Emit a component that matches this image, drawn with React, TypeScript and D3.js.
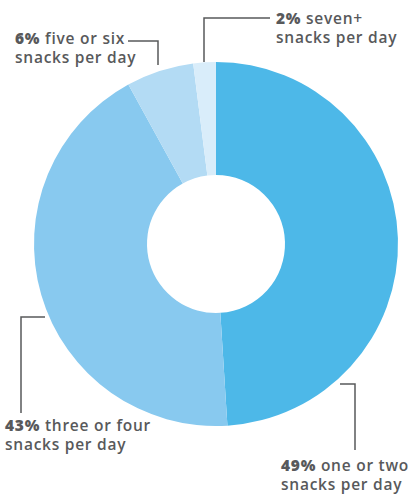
import React from "react";
import * as d3 from "d3";

const categories = ["one or two", "three or four", "five or six", "seven+"];
const values = [49, 43, 6, 2];
const colors = ["#4DB8E8", "#88C9EF", "#B3DBF4", "#D9EDFA"];

const W = 410;
const H = 496;
const cx = 216;
const cy = 244;
const R = 182;
const r0 = 69;

const textColor = "#58595B";
const font = "'Open Sans', 'DejaVu Sans', sans-serif";

export default function App() {
  const pie = d3.pie<number>().sort(null).value((d) => d);
  const arcs = pie(values);
  const arc = d3.arc<d3.PieArcDatum<number>>().innerRadius(r0).outerRadius(R);

  const labels = [
    { i: 0, x: 281, y: 471, leader: "M340,384 H355 V450" },
    { i: 1, x: 5, y: 431, leader: "M45,317 H21 V413" },
    { i: 2, x: 15, y: 44, leader: "M128,41 H158 V65" },
    { i: 3, x: 276, y: 24, leader: "M204,62 V18 H270" },
  ];

  return (
    <svg width={W} height={H} style={{ position: "absolute", left: 0, top: 0 }}>
      <rect width={W} height={H} fill="#fff" />
      <g transform={`translate(${cx},${cy})`}>
        {arcs.map((a, i) => (
          <path key={i} d={arc(a) || ""} fill={colors[i]} />
        ))}
      </g>
      {labels.map((l) => (
        <g key={l.i}>
          <path d={l.leader} fill="none" stroke={textColor} strokeWidth={1.5} />
          <text x={l.x} y={l.y} fill={textColor} fontFamily={font} fontSize={15.5} letterSpacing={0.75}>
            <tspan fontWeight={800}>{values[l.i]}%</tspan>
            <tspan fontWeight={600}> {categories[l.i]}</tspan>
          </text>
          <text x={l.x} y={l.y + 19} fill={textColor} fontFamily={font} fontSize={15.5} letterSpacing={0.75} fontWeight={600}>
            snacks per day
          </text>
        </g>
      ))}
    </svg>
  );
}
